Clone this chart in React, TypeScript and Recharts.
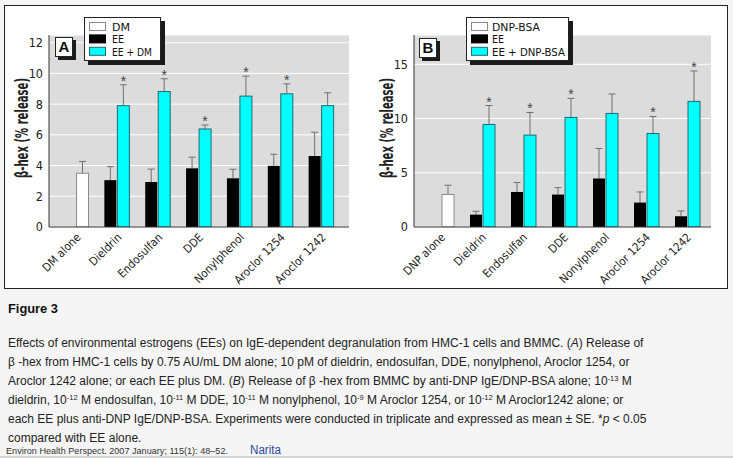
import React from 'react';
import { BarChart, Bar, XAxis, YAxis, CartesianGrid, Label, Legend } from 'recharts';

// ---------- data ----------
const eeNames = ['Dieldrin', 'Endosulfan', 'DDE', 'Nonylphenol', 'Aroclor 1254', 'Aroclor 1242'];

// Panel A (HMC-1 cells)
const controlNameA = 'DM alone';
const controlA = 3.5;
const controlSeA = 0.77;
const eeA = [3.05, 2.93, 3.82, 3.17, 3.98, 4.62];
const eeSeA = [0.88, 0.84, 0.73, 0.59, 0.76, 1.55];
const comboA = [7.9, 8.82, 6.38, 8.52, 8.67, 7.9];
const comboSeA = [1.36, 0.83, 0.26, 1.3, 0.65, 0.84];
const sigA = [true, true, true, true, true, false];
const ticksA = [0, 2, 4, 6, 8, 10, 12];
const legendA = ['DM', 'EE', 'EE + DM'];

// Panel B (BMMC)
const controlNameB = 'DNP alone';
const controlB = 3.0;
const controlSeB = 0.85;
const eeB = [1.14, 3.23, 2.99, 4.47, 2.25, 0.99];
const eeSeB = [0.31, 0.87, 0.64, 2.77, 0.98, 0.49];
const comboB = [9.45, 8.47, 10.1, 10.47, 8.62, 11.58];
const comboSeB = [1.75, 2.09, 1.76, 1.79, 1.57, 2.8];
const sigB = [true, true, true, false, true, true];
const ticksB = [0, 5, 10, 15];
const legendB = ['DNP-BSA', 'EE', 'EE + DNP-BSA'];

const yTitle = 'β-hex (% release)';

function buildRows(controlName: string, control: number, controlSe: number, ee: number[], eeSe: number[], combo: number[], comboSe: number[], sig: boolean[]) {
  const rows: any[] = [{ name: controlName, ee: null, eeSe: null, right: control, rightSe: controlSe, kind: 'control', sig: false }];
  eeNames.forEach((n, i) => {
    rows.push({ name: n, ee: ee[i], eeSe: eeSe[i], right: combo[i], rightSe: comboSe[i], kind: 'combo', sig: sig[i] });
  });
  return rows;
}

const rowsA = buildRows(controlNameA, controlA, controlSeA, eeA, eeSeA, comboA, comboSeA, sigA);
const rowsB = buildRows(controlNameB, controlB, controlSeB, eeB, eeSeB, comboB, comboSeB, sigB);

// ---------- styles ----------
const NARROW = "'Liberation Sans Narrow', 'DejaVu Sans Condensed', 'Liberation Sans', Arial, sans-serif";
const SANS = "'Liberation Sans', Arial, Helvetica, sans-serif";
const CYAN = '#00ffff';
const CYAN_EDGE = '#1f6a70';
const ERR = '#707070';

const makeShape = (key: string, seKey: string) => (props: any) => {
  const { x, y, width, height, payload } = props;
  const val = payload ? payload[key] : null;
  if (val == null || !height || height <= 0) return <g />;
  const se = payload[seKey] || 0;
  const pxPerUnit = height / val;
  const errY = y - se * pxPerUnit;
  const cx = x + width / 2;
  let fill = '#000';
  let stroke = 'none';
  if (key === 'right') {
    if (payload.kind === 'control') {
      fill = '#ffffff';
      stroke = '#8a8a8a';
    } else {
      fill = CYAN;
      stroke = CYAN_EDGE;
    }
  }
  return (
    <g>
      <line x1={cx} x2={cx} y1={y} y2={errY} stroke={ERR} strokeWidth={1} />
      <line x1={cx - 3.5} x2={cx + 3.5} y1={errY} y2={errY} stroke={ERR} strokeWidth={1} />
      <rect x={x + 0.5} y={y} width={width - 1} height={height} fill={fill} stroke={stroke} strokeWidth={1} />
      {key === 'right' && payload.sig ? (
        <text x={cx} y={errY + 1} textAnchor="middle" fontSize={14} fontFamily={SANS} fill="#444">*</text>
      ) : null}
    </g>
  );
};

const XTick = (props: any) => {
  const { x, y, payload } = props;
  const tx = x + 5;
  const ty = y + 11;
  return (
    <text x={tx} y={ty} transform={`rotate(-45 ${tx} ${ty})`} textAnchor="end" fontSize={11.5} fontFamily={NARROW} fill="#222">
      {payload.value}
    </text>
  );
};

const YTitle = (props: any) => {
  const vb = props.viewBox || { x: 0, y: 0, width: 0, height: 0 };
  const cx = vb.x + 13;
  const cy = vb.y + 93;
  return (
    <text x={cx} y={cy} transform={`rotate(-90 ${cx} ${cy})`} textAnchor="middle" dominantBaseline="central"
      fontSize={17} fontWeight="bold" fontFamily={NARROW} fill="#222" textLength={100} lengthAdjust="spacingAndGlyphs">
      {yTitle}
    </text>
  );
};

const makeLegend = (labels: string[], width: number, textX: number, textWidths: number[]) => () => {
  const swatches = [
    { fill: '#fff', stroke: '#8a8a8a' },
    { fill: '#000', stroke: '#000' },
    { fill: CYAN, stroke: CYAN_EDGE },
  ];
  return (
    <div style={{ position: 'relative', width, height: 44, background: '#fff', border: '1px solid #222', boxShadow: '4px 4px 0 #1a1a1a', boxSizing: 'border-box' }}>
      <svg width={width} height={44} style={{ position: 'absolute', left: 0, top: 0, overflow: 'visible' }}>
        {labels.map((l, i) => (
          <g key={l}>
            <rect x={4.5} y={4.5 + i * 12.4} width={16} height={8} fill={swatches[i].fill} stroke={swatches[i].stroke} strokeWidth={1} />
            <text x={textX} y={13 + i * 12.4} fontFamily={NARROW} fontSize={11} fill="#111"
              textLength={textWidths[i]} lengthAdjust="spacingAndGlyphs">{l}</text>
          </g>
        ))}
      </svg>
    </div>
  );
};

const LetterBox = ({ left, top, letter }: any) => (
  <div style={{ position: 'absolute', left, top, width: 18, height: 20, background: '#fff', border: '1px solid #222', boxShadow: '3px 3px 0 #1a1a1a', boxSizing: 'border-box', fontFamily: SANS, fontWeight: 'bold', fontSize: 15, lineHeight: '18px', textAlign: 'center', color: '#111' }}>
    {letter}
  </div>
);

function Panel({ rows, ticks, max, width, margin, padding, legend, legendLeft, legendWidth, legendTextX, legendTextWidths }: any) {
  return (
    <BarChart width={width} height={290} data={rows} margin={margin} barGap={0} barSize={13}>
      <CartesianGrid vertical={false} stroke="#ffffff" strokeWidth={1} fill="#dcdcdc" />
      <XAxis dataKey="name" interval={0} tickLine={false} tickSize={0} tickMargin={0} height={60}
        axisLine={{ stroke: '#333', strokeWidth: 1 }} padding={padding} tick={<XTick />} />
      <YAxis type="number" domain={[0, max]} ticks={ticks} width={40} tickLine={false} tickSize={0} tickMargin={6}
        axisLine={{ stroke: '#333', strokeWidth: 1 }} allowDataOverflow
        tick={{ fontSize: 12.5, fontFamily: NARROW, fill: '#222' }}>
        <Label content={<YTitle />} />
      </YAxis>
      <Legend layout="horizontal" verticalAlign="middle" align="center"
        wrapperStyle={{ position: 'absolute', left: legendLeft, top: 17, width: legendWidth, height: 44 }}
        content={makeLegend(legend, legendWidth, legendTextX, legendTextWidths)} />
      <Bar dataKey="ee" isAnimationActive={false} shape={makeShape('ee', 'eeSe')} />
      <Bar dataKey="right" isAnimationActive={false} shape={makeShape('right', 'rightSe')} />
    </BarChart>
  );
}

const captionLines: any[] = [
  ['Effects of environmental estrogens (EEs) on IgE-dependent degranulation from HMC-1 cells and BMMC. (', { i: 'A' }, ') Release of'],
  ['β -hex from HMC-1 cells by 0.75 AU/mL DM alone; 10 pM of dieldrin, endosulfan, DDE, nonylphenol, Aroclor 1254, or'],
  ['Aroclor 1242 alone; or each EE plus DM. (', { i: 'B' }, ') Release of β -hex from BMMC by anti-DNP IgE/DNP-BSA alone; 10', { s: '-13' }, ' M'],
  ['dieldrin, 10', { s: '-12' }, ' M endosulfan, 10', { s: '-11' }, ' M DDE, 10', { s: '-11' }, ' M nonylphenol, 10', { s: '-9' }, ' M Aroclor 1254, or 10', { s: '-12' }, ' M Aroclor1242 alone; or'],
  ['each EE plus anti-DNP IgE/DNP-BSA. Experiments were conducted in triplicate and expressed as mean ± SE. *', { i: 'p' }, ' < 0.05'],
  ['compared with EE alone.'],
];
const figureTitle = 'Figure 3';
const citation = 'Environ Health Perspect. 2007 January; 115(1): 48–52.';
const author = 'Narita';

function renderParts(parts: any[]) {
  const out: any[] = [];
  let pendingDy = 0;
  parts.forEach((p, k) => {
    if (typeof p === 'string') {
      out.push(<tspan key={k} dy={pendingDy || undefined}>{p}</tspan>);
      pendingDy = 0;
    } else if (p.i) {
      out.push(<tspan key={k} fontStyle="italic" dy={pendingDy || undefined}>{p.i}</tspan>);
      pendingDy = 0;
    } else if (p.s) {
      out.push(<tspan key={k} fontSize={7.5} dy={-4}>{p.s}</tspan>);
      pendingDy = 4;
    }
  });
  return out;
}

export default function App() {
  const lineStart = 8;
  const firstBaseline = 347;
  const pitch = 19;
  return (
    <div style={{ position: 'absolute', left: 0, top: 0, width: 733, height: 458, background: '#f5f5f5', overflow: 'hidden', fontFamily: SANS }}>
      <div style={{ position: 'absolute', left: 4, top: 5, width: 724, height: 284, background: '#fff', border: '1px solid #222', boxSizing: 'border-box' }} />
      <div style={{ position: 'absolute', left: 0, top: 0 }}>
        <Panel rows={rowsA} ticks={ticksA} max={12.5} width={365}
          margin={{ top: 35, right: 16, bottom: 3, left: 9 }} padding={{ left: 7, right: 7 }}
          legend={legendA} legendLeft={84} legendWidth={77} legendTextX={27} legendTextWidths={[18, 12, 40]} />
      </div>
      <div style={{ position: 'absolute', left: 365, top: 0 }}>
        <Panel rows={rowsB} ticks={ticksB} max={17.7} width={360}
          margin={{ top: 35, right: 14, bottom: 3, left: 9 }} padding={{ left: 6.5, right: 3.5 }}
          legend={legendB} legendLeft={101} legendWidth={103} legendTextX={25} legendTextWidths={[48, 12, 73]} />
      </div>
      <LetterBox left={55} top={37} letter="A" />
      <LetterBox left={419} top={38} letter="B" />
      <div style={{ position: 'absolute', left: 0, top: 456, width: 733, height: 2, background: '#d4d4d4' }} />
      <svg width={733} height={458} style={{ position: 'absolute', left: 0, top: 0 }}>
        <text x={lineStart} y={313} fontFamily={SANS} fontWeight="bold" fontSize={13} fill="#111" textLength={50} lengthAdjust="spacingAndGlyphs">{figureTitle}</text>
        {captionLines.map((parts, i) => (
          <text key={i} x={lineStart} y={firstBaseline + i * pitch} fontFamily={SANS} fontSize={12} fill="#222">
            {renderParts(parts)}
          </text>
        ))}
        <text x={6} y={454} fontFamily={SANS} fontSize={9} fill="#333" textLength={222} lengthAdjust="spacingAndGlyphs">{citation}</text>
        <text x={250} y={454} fontFamily={SANS} fontSize={12} fill="#2b4a9e" textLength={31} lengthAdjust="spacingAndGlyphs">{author}</text>
      </svg>
    </div>
  );
}
